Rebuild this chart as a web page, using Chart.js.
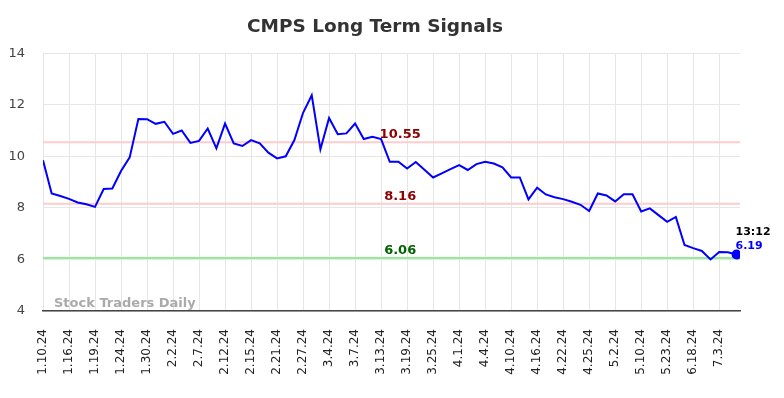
<!DOCTYPE html>
<html>
<head>
<meta charset="utf-8">
<script src="https://cdn.jsdelivr.net/npm/chart.js@4.4.1/dist/chart.umd.min.js"></script>
<style>
  html, body { margin: 0; padding: 0; background: #fff; }
  #wrap { width: 784px; height: 398px; }
</style>
</head>
<body>
<div id="wrap"><canvas id="signalChart"></canvas></div>
<script>
const tickLabels = ['1.10.24', '1.16.24', '1.19.24', '1.24.24', '1.30.24', '2.2.24', '2.7.24', '2.12.24', '2.15.24',
    '2.21.24', '2.27.24', '3.4.24', '3.7.24', '3.13.24', '3.19.24', '3.25.24', '4.1.24', '4.4.24',
    '4.10.24', '4.16.24', '4.22.24', '4.25.24', '5.2.24', '5.10.24', '5.23.24', '6.18.24', '7.3.24'];

const prices = [9.85, 8.56, 8.46, 8.35, 8.21, 8.14, 8.04, 8.73, 8.75, 9.43,
    9.96, 11.45, 11.44, 11.26, 11.34, 10.87, 11.0, 10.52, 10.6, 11.08,
    10.31, 11.27, 10.5, 10.4, 10.63, 10.5, 10.14, 9.92, 10.0, 10.63,
    11.69, 12.37, 10.27, 11.49, 10.86, 10.89, 11.27, 10.67, 10.76, 10.67,
    9.79, 9.79, 9.53, 9.78, 9.48, 9.18, 9.34, 9.5, 9.66, 9.47,
    9.7, 9.79, 9.72, 9.57, 9.18, 9.18, 8.33, 8.78, 8.52, 8.41,
    8.34, 8.24, 8.12, 7.88, 8.56, 8.48, 8.25, 8.53, 8.53, 7.86,
    7.98, 7.72, 7.46, 7.65, 6.56, 6.44, 6.33, 6.0, 6.29, 6.28,
    6.19];

const signalLevels = [10.55, 8.16, 6.06];
const signalLineColors = ['#ffcccc', '#ffcccc', '#90ee90'];
const signalTextColors = ['#8b0000', '#8b0000', '#006400'];
const lastTime = '13:12';

const lastIdx = prices.length - 1;

// horizontal signal lines + labels, watermark, last value
const signalPlugin = {
    id: 'signals',
    beforeDatasetsDraw(chart) {
        const {ctx, chartArea, scales: {y}} = chart;
        ctx.save();
        signalLevels.forEach((lvl, i) => {
            const py = y.getPixelForValue(lvl);
            ctx.strokeStyle = signalLineColors[i];
            ctx.lineWidth = 2;
            ctx.beginPath();
            ctx.moveTo(chartArea.left, py);
            ctx.lineTo(chartArea.right, py);
            ctx.stroke();
        });
        ctx.font = 'bold 13px "DejaVu Sans"';
        ctx.fillStyle = '#aaaaaa';
        ctx.textAlign = 'left';
        ctx.textBaseline = 'alphabetic';
        ctx.fillText('Stock Traders Daily', chartArea.left + 11, chartArea.bottom - 4);
        ctx.restore();
    },
    afterDatasetsDraw(chart) {
        const {ctx, scales: {x, y}} = chart;
        ctx.save();
        ctx.font = 'bold 13px "DejaVu Sans"';
        ctx.textAlign = 'center';
        ctx.textBaseline = 'alphabetic';
        const cx = x.getPixelForValue(41.2);
        signalLevels.forEach((lvl, i) => {
            ctx.fillStyle = signalTextColors[i];
            ctx.fillText(lvl.toFixed(2), cx, y.getPixelForValue(lvl) - 4);
        });
        const px = x.getPixelForValue(lastIdx);
        const py = y.getPixelForValue(prices[lastIdx]);
        ctx.textAlign = 'left';
        ctx.font = 'bold 11px "DejaVu Sans"';
        ctx.fillStyle = '#000';
        ctx.fillText(lastTime, px - 1, py - 20);
        ctx.fillStyle = '#0000ff';
        ctx.fillText(prices[lastIdx].toFixed(2), px - 1, py - 6);
        ctx.restore();
    }
};

const ctx = document.getElementById('signalChart').getContext('2d');
const signalChart = new Chart(ctx, {
    type: 'line',
    data: {
        datasets: [{
            data: prices.map((v, i) => ({x: i, y: v})),
            borderColor: '#0000ff',
            backgroundColor: '#0000ff',
            borderWidth: 2,
            pointRadius: c => c.dataIndex === lastIdx ? 4 : 0,
            pointHoverRadius: 0,
            tension: 0
        }]
    },
    options: {
        responsive: true,
        maintainAspectRatio: false,
        animation: false,
        layout: {
            padding: {top: 0, right: 44, bottom: 0, left: 10}
        },
        plugins: {
            legend: {display: false},
            tooltip: {enabled: false},
            title: {
                display: true,
                text: 'CMPS Long Term Signals',
                color: '#333333',
                font: {family: '"DejaVu Sans"', size: 18.5, weight: 'bold'},
                padding: {top: 16, bottom: 15}
            }
        },
        scales: {
            x: {
                type: 'linear',
                min: 0,
                max: 80.4,
                afterFit: s => { s.height = 87; },
                grid: {
                    color: '#e6e6e6',
                    drawTicks: false
                },
                border: {color: '#444444', width: 1.5},
                ticks: {
                    stepSize: 3,
                    includeBounds: false,
                    autoSkip: false,
                    minRotation: 90,
                    maxRotation: 90,
                    padding: 18,
                    color: '#222222',
                    font: {family: '"DejaVu Sans"', size: 12},
                    callback: v => tickLabels[v / 3] || ''
                }
            },
            y: {
                min: 4,
                max: 14,
                afterFit: s => { s.width = 33; },
                grid: {
                    color: '#e6e6e6',
                    drawTicks: false
                },
                border: {display: false},
                ticks: {
                    stepSize: 2,
                    padding: 18,
                    color: '#444444',
                    font: {family: '"DejaVu Sans"', size: 13}
                }
            }
        }
    },
    plugins: [signalPlugin]
});
</script>
</body>
</html>
